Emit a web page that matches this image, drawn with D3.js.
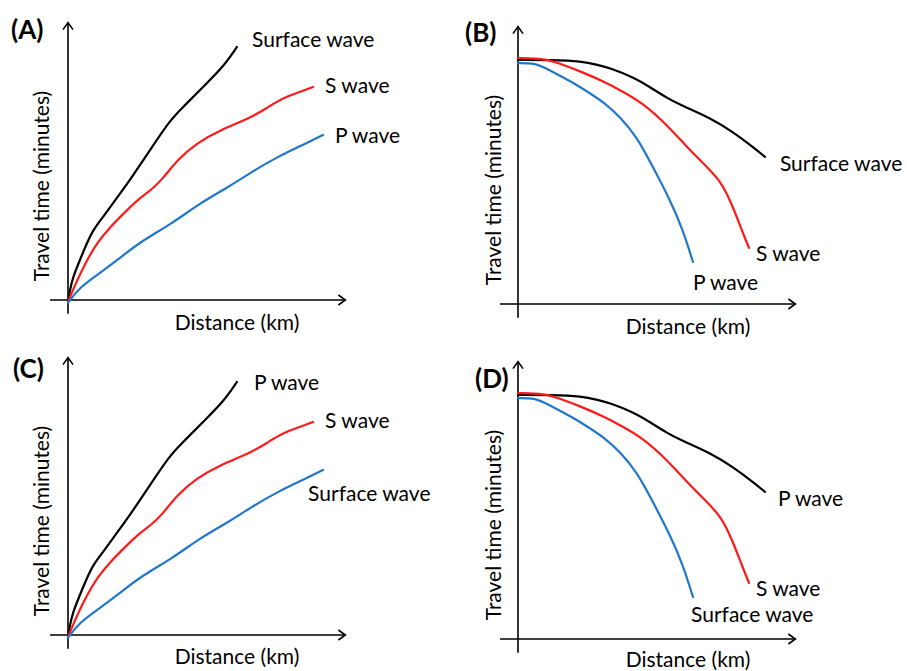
<!DOCTYPE html>
<html><head><meta charset="utf-8">
<script src="https://cdn.jsdelivr.net/npm/d3@7"></script>
<style>body{margin:0;background:#fff}svg{display:block}text{font-family:Lato,"Open Sans",sans-serif;fill:#000}</style>
</head><body>
<svg id="chart" width="907" height="671"></svg>
<script>
// ---- Data (arbitrary units: distance 0..10, time 0..10) ----
const panelLetters = ["(A)", "(B)", "(C)", "(D)"];
const xAxisTitle = "Distance (km)";
const yAxisTitle = "Travel time (minutes)";

// rising curves (panels A and C)
const risingBlack = [[0,-0.07],[0.07,0.36],[0.18,0.83],[0.43,1.45],[0.69,2.07],[0.91,2.54],[1.27,3.01],[1.63,3.51],[2.25,4.35],[2.97,5.43],[3.7,6.52],[4.17,6.99],[4.89,7.72],[5.62,8.44],[6.12,9.17]];
const risingRed = [[0,-0.07],[0.33,0.72],[0.69,1.45],[1.05,2.07],[1.52,2.64],[2.14,3.26],[2.61,3.7],[3.05,4.02],[3.4,4.35],[3.95,5.07],[4.67,5.69],[5.51,6.16],[6.59,6.59],[7.21,6.96],[7.79,7.32],[8.41,7.54],[8.88,7.72]];
const risingBlue = [[0,-0.1],[0.43,0.47],[1.16,0.98],[1.88,1.52],[2.61,2.1],[3.8,2.79],[4.78,3.51],[5.76,4.06],[6.59,4.6],[7.57,5.18],[8.66,5.69],[9.24,5.98]];

// falling curves (panels B and D)
const fallingBlack = [[0,8.84],[1.2,8.84],[2.32,8.8],[2.9,8.66],[3.33,8.55],[4.17,8.22],[4.78,7.86],[5.4,7.46],[5.98,7.17],[6.96,6.74],[7.79,6.23],[8.51,5.69],[8.95,5.33]];
const fallingRed = [[0,8.91],[0.98,8.88],[1.45,8.73],[2.32,8.41],[3.15,8.04],[3.7,7.75],[4.53,7.28],[5.4,6.49],[6.12,5.69],[6.7,5.11],[7.39,4.42],[7.79,3.51],[8.15,2.57],[8.37,2.03]];
const fallingBlue = [[0,8.73],[0.62,8.73],[0.98,8.55],[1.34,8.37],[1.96,8.04],[2.54,7.68],[3.15,7.28],[3.7,6.78],[4.31,6.05],[4.89,4.96],[5.51,3.77],[5.98,2.68],[6.34,1.52]];

// curve labels per panel (black, red, blue)
const labelsA = ["Surface wave", "S wave", "P wave"];
const labelsB = ["Surface wave", "S wave", "P wave"];
const labelsC = ["P wave", "S wave", "Surface wave"];
const labelsD = ["P wave", "S wave", "Surface wave"];

// ---- Layout ----
const colors = ["#000000", "#ff1a1a", "#2177c9"];
const unit = 27.6;
const panels = [
  {letter: panelLetters[0], ox: 68, oy: 300, curves: [risingBlack, risingRed, risingBlue], labels: labelsA,
   labelPos: [[6.67,9.46],[9.31,7.79],[9.67,5.98]], letterPos: [11, 29], xt: [237, 321], yt: [40, 186]},
  {letter: panelLetters[1], ox: 518, oy: 304, curves: [fallingBlack, fallingRed, fallingBlue], labels: labelsB,
   labelPos: [[9.49,5.14],[8.62,1.88],[6.34,0.83]], letterPos: [465, 32], xt: [688, 325], yt: [492, 190]},
  {letter: panelLetters[2], ox: 68, oy: 635, curves: [risingBlack, risingRed, risingBlue], labels: labelsC,
   labelPos: [[6.74,9.17],[9.31,7.79],[8.70,5.18]], letterPos: [13, 368], xt: [237, 655], yt: [40, 521]},
  {letter: panelLetters[3], ox: 518, oy: 639, curves: [fallingBlack, fallingRed, fallingBlue], labels: labelsD,
   labelPos: [[9.42,5.14],[8.62,1.88],[6.27,0.94]], letterPos: [475, 378], xt: [688, 658], yt: [492, 525]}
];

const svg = d3.select("#chart");

panels.forEach(p => {
  const x = d3.scaleLinear().domain([0, 10]).range([p.ox, p.ox + 10 * unit]);
  const y = d3.scaleLinear().domain([0, 10]).range([p.oy, p.oy - 10 * unit]);
  const g = svg.append("g");

  // axes with open arrowheads
  const axisStyle = s => s.attr("stroke", "#000").attr("stroke-width", 1.6).attr("fill", "none");
  const xEnd = x(10.05), yEnd = y(10.05);
  g.append("line").attr("x1", x(-0.65)).attr("x2", xEnd).attr("y1", y(0)).attr("y2", y(0)).call(axisStyle);
  g.append("path").attr("d", `M${xEnd-7},${y(0)-5}L${xEnd},${y(0)}L${xEnd-7},${y(0)+5}`).call(axisStyle);
  g.append("line").attr("x1", x(0)).attr("x2", x(0)).attr("y1", y(-0.5)).attr("y2", yEnd).call(axisStyle);
  g.append("path").attr("d", `M${x(0)-5},${yEnd+7}L${x(0)},${yEnd}L${x(0)+5},${yEnd+7}`).call(axisStyle);

  // curves
  const line = d3.line().x(d => x(d[0])).y(d => y(d[1])).curve(d3.curveBasis);
  p.curves.forEach((c, i) => {
    g.append("path").datum(c).attr("d", line).attr("fill", "none")
      .attr("stroke", colors[i]).attr("stroke-width", 2.2).attr("stroke-linecap", "round");
  });

  // curve labels
  p.labels.forEach((t, i) => {
    g.append("text").attr("x", x(p.labelPos[i][0])).attr("y", y(p.labelPos[i][1]))
      .attr("dominant-baseline", "central").attr("font-size", 21).text(t);
  });

  // panel letter
  g.append("text").attr("x", p.letterPos[0]).attr("y", p.letterPos[1]).attr("dominant-baseline", "central")
    .attr("font-size", 26).attr("font-weight", "bold").text(p.letter);

  // axis titles
  g.append("text").attr("x", p.xt[0]).attr("y", p.xt[1]).attr("text-anchor", "middle")
    .attr("dominant-baseline", "central").attr("font-size", 21).text(xAxisTitle);
  g.append("text").attr("transform", `translate(${p.yt[0]},${p.yt[1]}) rotate(-90)`).attr("text-anchor", "middle")
    .attr("dominant-baseline", "central").attr("font-size", 21).text(yAxisTitle);
});
</script>
</body></html>
